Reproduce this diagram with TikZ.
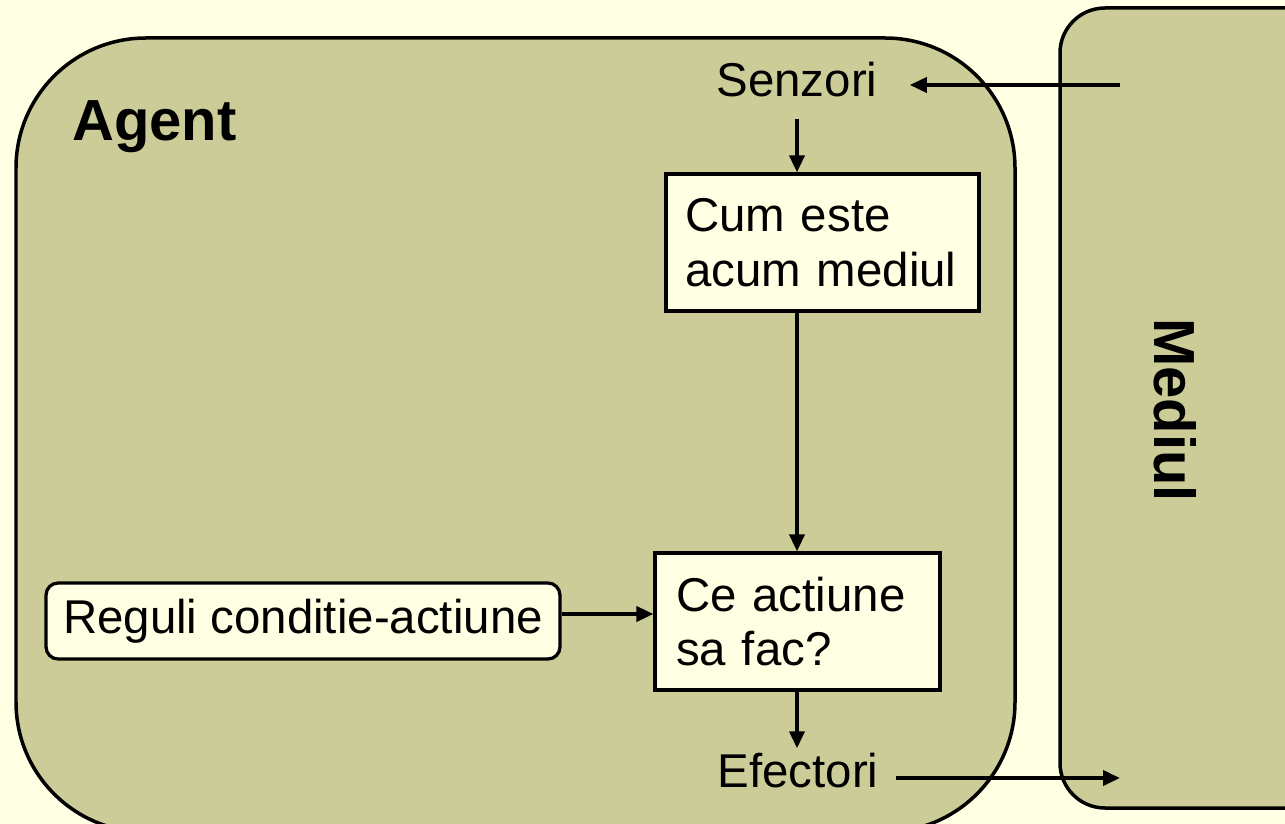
\documentclass[tikz,border=0pt]{standalone}
\usepackage{xcolor}
\usepackage{fontspec}
\setmainfont{Liberation Sans}
\usepackage{tikz}
\usetikzlibrary{arrows.meta,positioning}
\definecolor{hartie}{HTML}{FFFFE3}
\definecolor{masliniu}{HTML}{CCCC99}

\begin{document}
\begin{tikzpicture}[
				x = 0.02cm, y = -0.02cm,
				every node/.style = {font = \fontsize{27}{31}\selectfont},
				zona/.style = {draw, line width = 0.07cm, fill = masliniu},
				cutie/.style = {draw, line width = 0.065cm, fill = hartie, align = left, inner xsep = 0.4cm},
				titlu/.style = {font = \fontsize{33}{38}\selectfont\bfseries},
				sageata/.style = {line width = 0.075cm, -{Triangle[length=0.34cm,width=0.3cm]}}
				]
				\useasboundingbox (0,0) rectangle (1285,824);
				\clip (0,0) rectangle (1285,824);
				\fill [hartie] (0,0) rectangle (1285,824);
				
				% agentul si mediul
				\draw [zona, rounded corners = 2.6cm] (16,38) rectangle (1015,832);
				\draw [zona, rounded corners = 0.9cm] (1060,8) rectangle (1340,808);
				\node [titlu, anchor = west] (agent) at (66,127) {Agent};
				\node [titlu, rotate = -90] (mediul) at (1175,410) {Mediul};
				
				% senzori, efectori
				\node [anchor = base, inner xsep = 0.64cm, inner ysep = 0.42cm] (senz) at (797,97) {Senzori};
				\node [anchor = base, inner xsep = 0.34cm, inner ysep = 0.08cm] (efect) at (798,787) {Efectori};
				\coordinate (intrare) at (1120,85);
				\coordinate (iesire) at (1120,778);
				
				% casetele
				\node [cutie, minimum width = 6.26cm, minimum height = 2.74cm, text width = 5.5cm, inner xsep = 0.38cm] (cum) at (822.5,242.5) {Cum este\\acum mediul};
				\node [cutie, minimum width = 5.7cm, minimum height = 2.74cm, text width = 4.86cm] (ce) at (797.5,621.5) {Ce actiune\\sa fac?};
				\node [cutie, rounded corners = 0.24cm, minimum width = 10.28cm, minimum height = 1.52cm, inner xsep = 0.3cm] (reguli) at (303,621) {Reguli conditie-actiune};
				
				% sagetile
				\draw [sageata] (intrare) -- (intrare -| senz.east);
				\draw [sageata] (senz.south) -- (senz.south |- cum.north);
				\draw [sageata] (cum.south -| senz.south) -- (senz.south |- ce.north);
				\draw [sageata] ([yshift=0.14cm]reguli.east) -- ([yshift=0.14cm]reguli.east -| ce.west);
				\draw [sageata] (ce.south -| senz.south) -- (senz.south |- efect.north);
				\draw [sageata] (efect.east |- iesire) -- (iesire);
			\end{tikzpicture}
\end{document}
